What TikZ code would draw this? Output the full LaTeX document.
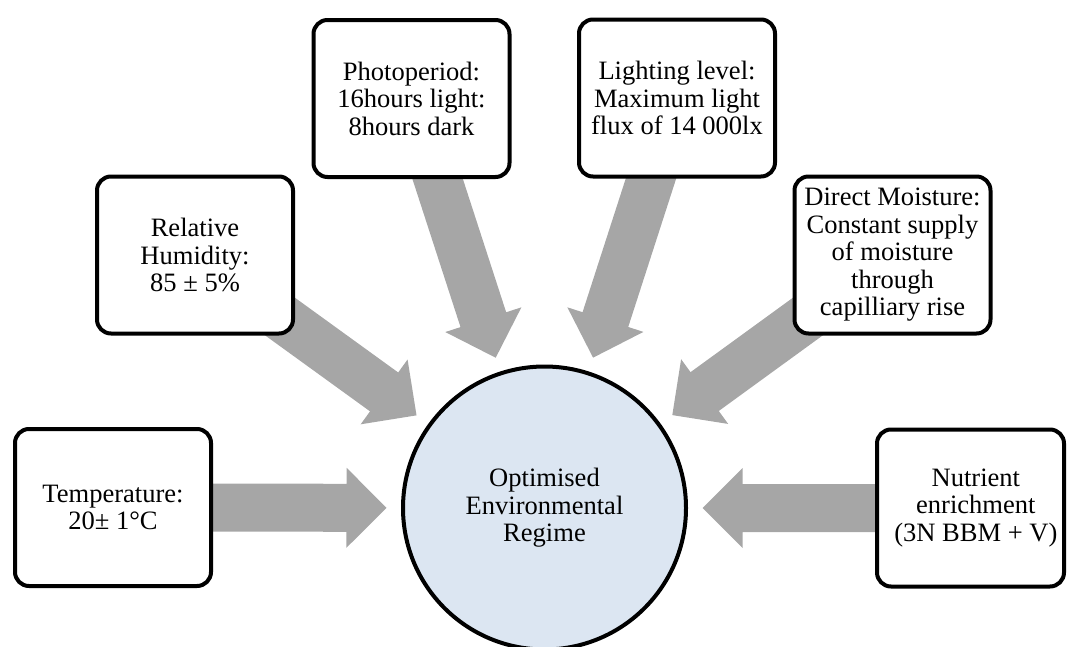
\documentclass[tikz,border=0pt]{standalone}
\usepackage{fontspec}
\setmainfont{Liberation Serif}
\usetikzlibrary{calc,backgrounds}

\definecolor{hubfill}{RGB}{220,230,242}
\definecolor{flowgray}{RGB}{166,166,166}

\tikzset{
  factor/.style={draw=black, line width=3pt, fill=white, rounded corners=10.5pt,
    minimum width=147pt, minimum height=117.75pt, inner sep=0pt, align=center,
    font=\fontsize{19.9pt}{20.6pt}\selectfont},
  hubnode/.style={circle, draw=black, line width=3pt, fill=hubfill,
    minimum size=212.25pt, inner sep=0pt, align=center,
    font=\fontsize{19.9pt}{20.6pt}\selectfont},
  flow/.style={fill=flowgray}
}

% Block arrow pointing from a factor box (#2) towards the hub (#1)
\newcommand\flowarrow[2]{%
  \path ($(#1)!118.5pt!(#2)$) coordinate (fa-tip)
        ($(#1)!148.5pt!(#2)$) coordinate (fa-head)
        ($(#1)!270pt!(#2)$) coordinate (fa-tail);
  \fill[flow] (fa-tip)
    -- ($(fa-head)!30pt!90:(#2)$) -- ($(fa-head)!18pt!90:(#2)$)
    -- ($(fa-tail)!18pt!90:(#2)$) -- ($(fa-tail)!18pt!-90:(#2)$)
    -- ($(fa-head)!18pt!-90:(#2)$) -- ($(fa-head)!30pt!-90:(#2)$)
    -- cycle;
}

\begin{document}
\begin{tikzpicture}[x=0.75pt, y=-0.75pt]
  \useasboundingbox (0,0) rectangle (1067,646);

  % central hub
  \node[hubnode] (hub) at (544.5,508) {Optimised\\Environmental\\Regime};

  % factor boxes
  \node[factor] (temp)  at (113,507.5) {Temperature:\\20± 1°C};
  \node[factor] (hum)   at (195,255)   {Relative\\Humidity:\\85 ± 5\%};
  \node[factor] (photo) at (411.5,98.5) {Photoperiod:\\16hours light:\\8hours dark};
  \node[factor] (light) at (677,98)    {Lighting level:\\Maximum light\\flux of 14 000lx};
  \node[factor] (moist) at (892.5,255) {Direct Moisture:\\Constant supply\\of moisture\\through\\capilliary rise};
  \node[factor, minimum width=140.25pt] (nutr) at (970.5,508) {\hspace*{8pt}Nutrient\\\hspace*{8pt}enrichment\\\hspace*{8pt}(3N BBM + V)};

  % arrows behind the boxes
  \begin{scope}[on background layer]
    \flowarrow{hub}{temp}
    \flowarrow{hub}{hum}
    \flowarrow{hub}{photo}
    \flowarrow{hub}{light}
    \flowarrow{hub}{moist}
    \flowarrow{hub}{nutr}
  \end{scope}
\end{tikzpicture}
\end{document}
